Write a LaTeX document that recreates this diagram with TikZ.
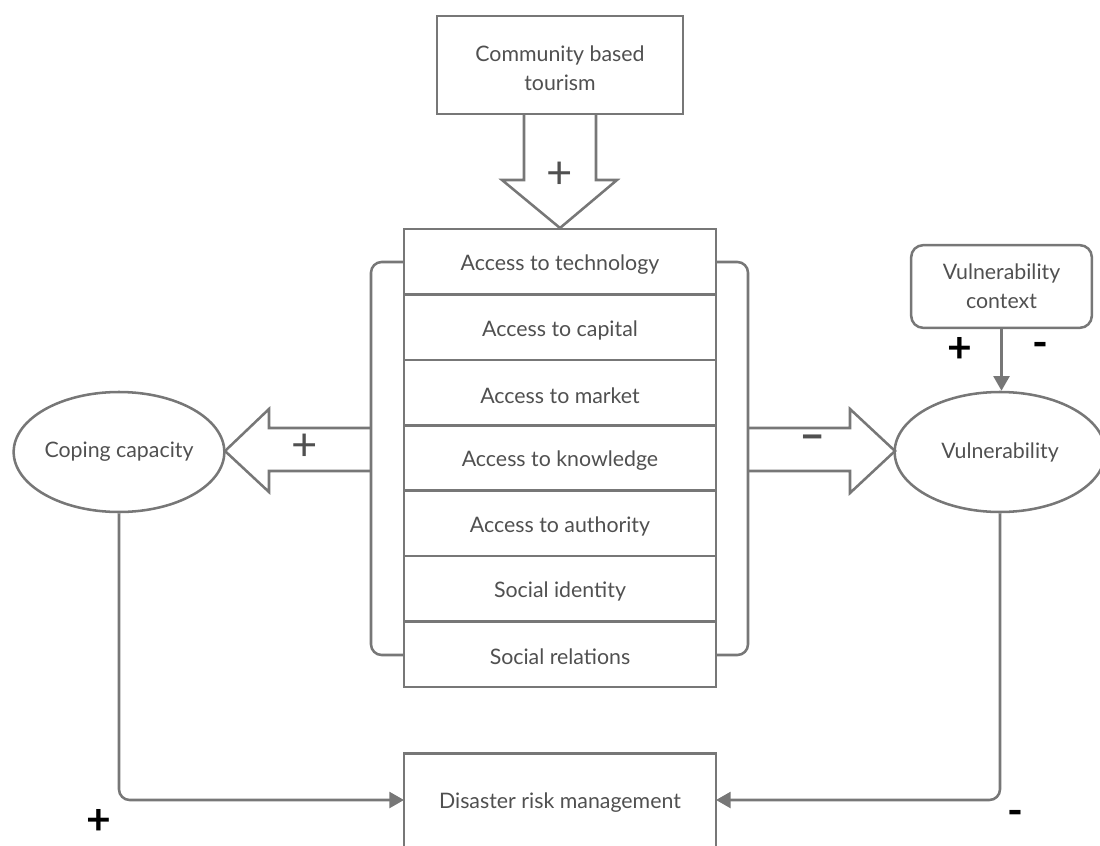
\documentclass[tikz,border=0pt]{standalone}
\usepackage{fontspec}
\setmainfont{Lato}
\usetikzlibrary{shapes.geometric,arrows.meta}
\definecolor{ln}{HTML}{777777}
\definecolor{tx}{HTML}{505050}
\begin{document}
\begin{tikzpicture}[x=0.75pt,y=-0.75pt,
  every node/.style={text=tx,font=\fontsize{16}{22}\selectfont},
  lw/.style={draw=ln,line width=1.9pt},
  row/.style={lw,rectangle,minimum width=234pt,minimum height=49pt,inner sep=0pt,fill=white},
  oval/.style={lw,ellipse,minimum width=158pt,minimum height=90pt,inner sep=0pt},
  blk/.style={lw,fill=white,line join=miter},
  conn/.style={lw,rounded corners=8pt,-{Triangle[length=11pt,width=12pt]}},
  sign/.style={text=black,font=\bfseries\fontsize{32}{32}\selectfont},
  gsign/.style={text=tx,font=\fontsize{34}{34}\selectfont}]
\useasboundingbox (0,0) rectangle (1100,846);
\clip (0,0) rectangle (1100,846);
% block arrows first
\draw[blk] (524,114) -- (524,180) -- (502,180) -- (560,228) -- (617,180) -- (596,180) -- (596,114);
\draw[blk] (371,428) -- (269,428) -- (269,409) -- (225,451) -- (269,492) -- (269,471) -- (371,471);
\draw[blk] (748,428) -- (850,428) -- (850,409) -- (895,451) -- (850,493) -- (850,471) -- (748,471);
% top box
\node[lw,rectangle,minimum width=184.5pt,minimum height=73.5pt,align=center,inner sep=0pt,fill=white] (cbt) at (560,65) {};
\node[align=center] (cbtt) at (560,68) {Community based\\tourism};
% brackets
\draw[lw,rounded corners=8pt] (404,262) -- (371,262) -- (371,655) -- (404,655);
\draw[lw,rounded corners=8pt] (716,262) -- (748,262) -- (748,655) -- (716,655);
% rows
\foreach \i/\t in {0/Access to technology,1/Access to capital,2/Access to market,3/Access to knowledge,4/Access to authority,5/Social identity,6/Social relations}{
  \node[row] (r\i) at (560,{261.7+65.4*\i}) {};
  \node (t\i) at (560,{264.7+65.4*\i}) {\t};
}
\node[gsign] (pt) at (560,175) {+};
\node[gsign] (pl) at (305,447) {+};
\node[text=tx,font=\bfseries\fontsize{34}{34}\selectfont] (mr) at (813,443) {–};
% ellipses
\node[oval] (cope) at (119,452) {Coping capacity};
\node[oval] (vul) at (1000,452) {Vulnerability};
% vulnerability context
\node[lw,rectangle,rounded corners=9pt,minimum width=135.5pt,minimum height=62pt,align=center,inner sep=0pt] (vc) at (1001.5,286.5) {Vulnerability\\context};
\draw[lw,-{Triangle[length=11pt,width=12pt]}] (vc.south) -- (vc.south |- vul.north);
\node[sign] (p1) at (960,350) {+};
\node[sign] (m1) at (1040,350) {-};
% DRM
\node[row,anchor=north,minimum height=80pt] (drm) at (560,752) {};
\node (drmt) at (560,803) {Disaster risk management};
\coordinate (jl) at (404,800);
\coordinate (jr) at (716,800);
\draw[conn] (cope.south) -- (cope.south |- jl) -- (jl);
\draw[conn] (vul.south) -- (vul.south |- jr) -- (jr);
\node[sign] (p2) at (99,822) {+};
\node[sign] (m2) at (1015,818) {-};
\end{tikzpicture}
\end{document}
